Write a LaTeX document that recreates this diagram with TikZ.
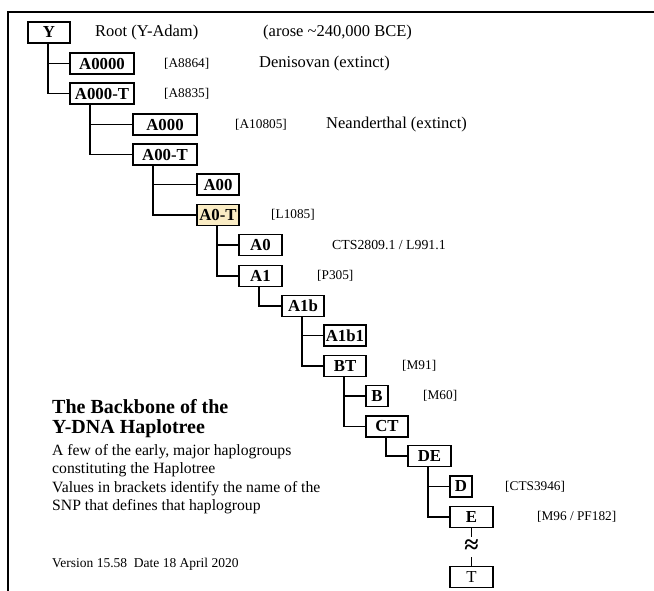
\documentclass[tikz,border=0pt]{standalone}
\usepackage{fontspec}
\setmainfont{Liberation Serif}
\definecolor{hilite}{RGB}{250,236,196}
\begin{document}
\begin{tikzpicture}[x=1pt,y=-1pt,
  hg/.style={draw, line width=1.7pt, inner sep=0pt, minimum height=21pt,
    font=\fontsize{16.8}{18}\selectfont\bfseries},
  link/.style={line width=1.7pt},
  snp/.style={anchor=west, inner sep=0pt, font=\fontsize{13.3}{15}\selectfont},
  note/.style={anchor=west, inner sep=0pt, font=\fontsize{16.5}{19}\selectfont},
  line/.style={anchor=base west, inner sep=0pt}]
\useasboundingbox (0,0) rectangle (654,591);

% open frame along the top and left
\draw[line width=1.6pt] (654,12) -- (8,12) -- (8,591);

% haplogroup boxes
\node[hg, minimum width=42pt] (Y)     at (49,32.5)   {Y};
\node[hg, minimum width=64pt] (A0000) at (102,63.5)  {A0000};
\node[hg, minimum width=64pt] (A000T) at (102,93.5)  {A000-T};
\node[hg, minimum width=64pt] (A000)  at (165,124.5) {A000};
\node[hg, minimum width=64pt] (A00T)  at (165,154.5) {A00-T};
\node[hg, minimum width=42pt] (A00)   at (218,184.5) {A00};
\node[hg, minimum width=42pt, fill=hilite] (A0T) at (218,215) {A0-T};
\node[hg, minimum width=43pt] (A0)    at (260.5,245) {A0};
\node[hg, minimum width=43pt] (A1)    at (260.5,276) {A1};
\node[hg, minimum width=42pt] (A1b)   at (303,306)   {A1b};
\node[hg, minimum width=42pt] (A1b1)  at (345,335.5) {A1b1};
\node[hg, minimum width=42pt] (BT)    at (345,366)   {BT};
\node[hg, minimum width=22pt] (B)     at (377,396)   {B};
\node[hg, minimum width=42pt] (CT)    at (387,426.5) {CT};
\node[hg, minimum width=43pt] (DE)    at (429.5,456) {DE};
\node[hg, minimum width=22pt] (D)     at (461,486.5) {D};
\node[hg, minimum width=43pt] (E)     at (471.5,517) {E};
\node[hg, minimum width=43pt, font=\fontsize{16.8}{18}\selectfont] (T) at (471.5,577) {T};
\node[inner sep=0pt, minimum height=20pt, font=\fontsize{26}{26}\selectfont\bfseries]
  (gap) at (471.5,547) {≈};

% branch connectors
\foreach \p/\c in {Y/A0000, Y/A000T, A000T/A000, A000T/A00T, A00T/A00, A00T/A0T,
                   A0T/A0, A0T/A1, A1/A1b, A1b/A1b1, A1b/BT, BT/B, BT/CT,
                   CT/DE, DE/D, DE/E}
  \draw[link] ([xshift=21pt]\p.south west) |- (\c.west);
\draw[link] (E.south) -- (gap.north);
\draw[link] (gap.south) -- (T.north);

% descriptions and defining SNPs
\node[note] (root)  at (95,33)  {Root (Y-Adam)};
\node[note] (age)   at (263,33) {(arose \textasciitilde240,000 BCE)};
\node[snp]  (s1)    at (164,64) {[A8864]};
\node[note] (deni)  at (259,64) {Denisovan (extinct)};
\node[snp]  (s2)    at (164,94) {[A8835]};
\node[snp]  (s3)    at (235,125) {[A10805]};
\node[note] (nean)  at (326,125) {Neanderthal (extinct)};
\node[snp]  (s4)    at (271,215) {[L1085]};
\node[snp, font=\fontsize{13.8}{15}\selectfont] (s5) at (332,245) {CTS2809.1 / L991.1};
\node[snp]  (s6)    at (317,276) {[P305]};
\node[snp]  (s7)    at (402,366) {[M91]};
\node[snp]  (s8)    at (423,396) {[M60]};
\node[snp]  (s9)    at (505,487) {[CTS3946]};
\node[snp]  (s10)   at (537,517) {[M96 / PF182]};

% title and legend
\node[line, font=\fontsize{20}{20}\selectfont\bfseries] (t1) at (52,413) {The Backbone of the};
\node[line, font=\fontsize{20}{20}\selectfont\bfseries] (t2) at (52,433) {Y-DNA Haplotree};
\node[line, font=\fontsize{15.7}{18}\selectfont] (l1) at (52,455)   {A few of the early, major haplogroups};
\node[line, font=\fontsize{15.7}{18}\selectfont] (l2) at (52,473.5) {constituting the Haplotree};
\node[line, font=\fontsize{15.7}{18}\selectfont] (l3) at (52,492)   {Values in brackets identify the name of the};
\node[line, font=\fontsize{15.7}{18}\selectfont] (l4) at (52,510.5) {SNP that defines that haplogroup};
\node[line, font=\fontsize{13.5}{15}\selectfont] (ver) at (52,567) {Version 15.58\ \ Date 18 April 2020};
\end{tikzpicture}
\end{document}
